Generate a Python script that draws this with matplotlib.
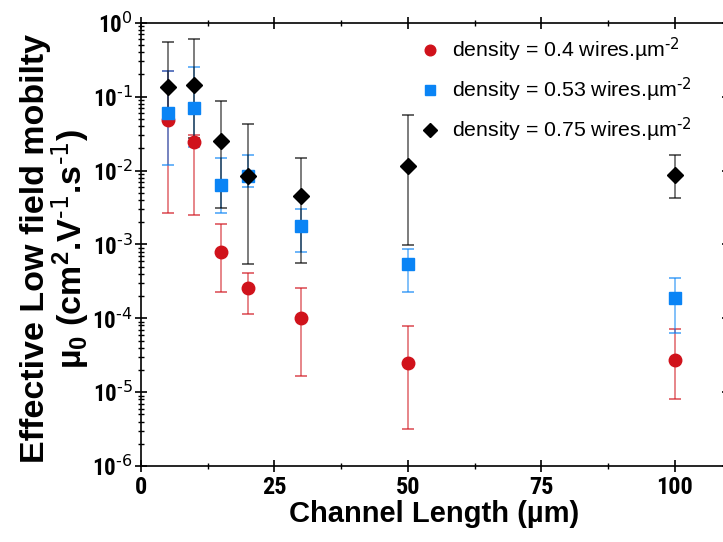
import matplotlib
matplotlib.use('Agg')
import matplotlib.pyplot as plt
from matplotlib.ticker import FixedLocator, NullFormatter, FuncFormatter
from matplotlib.lines import Line2D
import numpy as np

plt.rcParams['font.family'] = ['Liberation Sans', 'DejaVu Sans']
plt.rcParams['mathtext.default'] = 'regular'

# Channel length (um)
length = [5, 10, 15, 20, 30, 50, 100]

# density = 0.4 wires.um-2
mu_04 = [0.049, 0.024, 7.8e-4, 2.6e-4, 1.0e-4, 2.5e-5, 2.7e-5]
hi_04 = [0.22, 0.03, 1.9e-3, 4.1e-4, 2.6e-4, 7.8e-5, 7.1e-5]
lo_04 = [0.0027, 0.0025, 2.3e-4, 1.15e-4, 1.65e-5, 3.2e-6, 8.1e-6]

# density = 0.53 wires.um-2
mu_053 = [0.060, 0.071, 0.0064, 0.0085, 0.0018, 5.4e-4, 1.9e-4]
hi_053 = [0.22, 0.25, 0.015, 0.016, 0.003, 8.7e-4, 3.5e-4]
lo_053 = [0.012, 0.021, 0.0027, 0.006, 7.9e-4, 2.3e-4, 6.3e-5]

# density = 0.75 wires.um-2
mu_075 = [0.135, 0.145, 0.025, 0.0085, 0.0045, 0.0116, 0.0087]
hi_075 = [0.55, 0.6, 0.088, 0.043, 0.015, 0.057, 0.016]
lo_075 = [0.052, 0.028, 0.0031, 5.4e-4, 5.6e-4, 9.8e-4, 0.0043]

x_ticks = [0, 25, 50, 75, 100]
y_exponents = [-6, -5, -4, -3, -2, -1, 0]

series = [
    ('density = 0.4 wires.µm$^{\\text{-2}}$', mu_04, lo_04, hi_04, 'o', '#d0121b', 9),
    ('density = 0.53 wires.µm$^{\\text{-2}}$', mu_053, lo_053, hi_053, 's', '#0a84f5', 8),
    ('density = 0.75 wires.µm$^{\\text{-2}}$', mu_075, lo_075, hi_075, 'D', 'black', 8.5),
]

fig = plt.figure(figsize=(7.23, 5.42), dpi=100)
ax = fig.add_axes([0.195, 0.140, 0.812, 0.818])

handles = []
for label, mu, lo, hi, mk, col, ms in series:
    mu = np.array(mu)
    yerr = [mu - np.array(lo), np.array(hi) - mu]
    eb = ax.errorbar(length, mu, yerr=yerr, fmt=mk, color=col, ms=ms,
                     ecolor=col, elinewidth=1.2, capsize=4, capthick=1.2)
    for c in eb[2]:
        c.set_alpha(0.6)
    for c in eb[1]:
        c.set_alpha(0.7)
    handles.append(Line2D([], [], marker=mk, color=col, ls='none', ms=ms * 0.85,
                          label=label))

ax.set_yscale('log')
ax.set_ylim(1e-6, 1)
ax.set_xlim(0, 110)
ax.xaxis.set_major_locator(FixedLocator(x_ticks))
ax.xaxis.set_minor_locator(FixedLocator([t + 12.5 for t in x_ticks]))
yt = [10.0 ** e for e in y_exponents]
ax.yaxis.set_major_locator(FixedLocator(yt))
ax.yaxis.set_minor_locator(FixedLocator([m * t for t in yt[:-1] for m in range(2, 10)]))
ax.yaxis.set_minor_formatter(NullFormatter())
ax.yaxis.set_major_formatter(FuncFormatter(
    lambda v, p: '10$^{\\text{%d}}$' % int(round(np.log10(v)))))

ax.tick_params(which='major', direction='inout', length=8, width=1.2,
               labelsize=17.5, top=True, right=True, pad=3)
ax.tick_params(axis='y', which='major', pad=2, labelsize=16.5)
ax.tick_params(which='minor', direction='inout', length=5, width=1,
               top=True, right=True)
for lab in ax.get_xticklabels() + ax.get_yticklabels():
    lab.set_fontweight('bold')
    lab.set_fontfamily(['Roboto Condensed', 'Liberation Sans'])
for sp in ax.spines.values():
    sp.set_linewidth(1.2)

ax.set_xlabel('Channel Length (µm)', fontsize=21, fontweight='bold', labelpad=1)
ax.set_ylabel('Effective Low field mobilty\nµ$_0$ (cm$^2$.V$^{\\text{-1}}$.s$^{\\text{-1}}$)',
              fontsize=24.5, fontweight='bold', linespacing=0.95)
ax.yaxis.set_label_coords(-0.084, 0.49)

ax.legend(handles=handles, loc='upper left', bbox_to_anchor=(0.452, 1.0),
          frameon=False, fontsize=15.3, handletextpad=0.55, labelspacing=0.55,
          handlelength=1.0, borderaxespad=0.2)

fig.savefig('out.png', dpi=100)
